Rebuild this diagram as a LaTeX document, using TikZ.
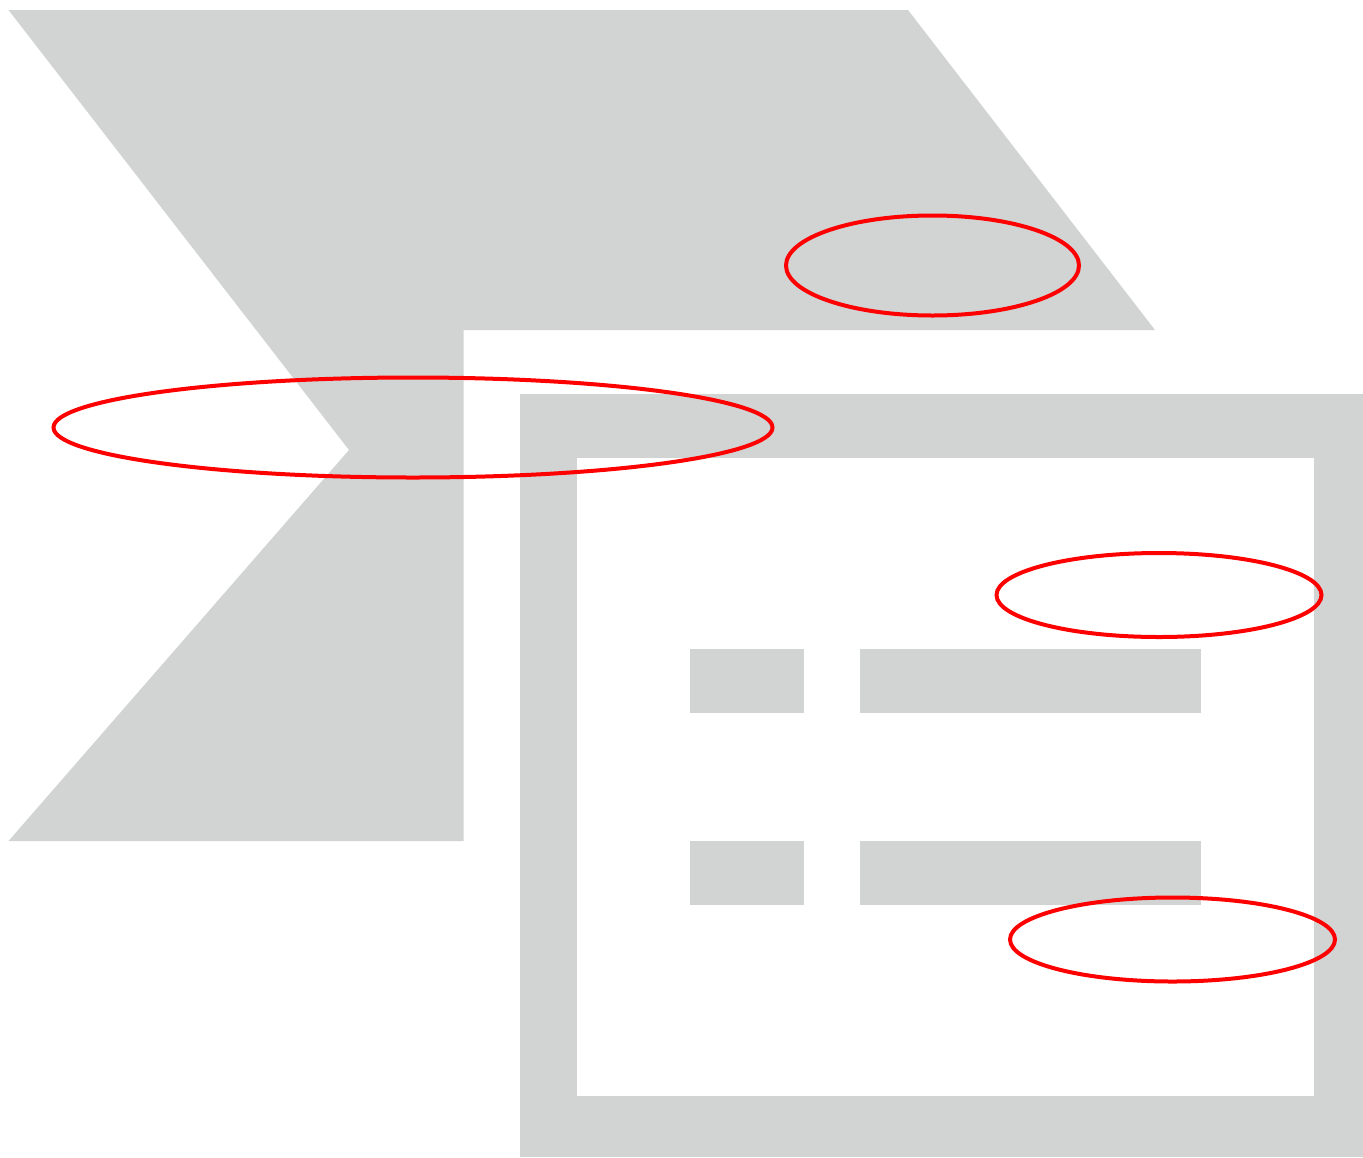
\documentclass[tikz,border=0pt]{standalone}
\definecolor{shape}{HTML}{D2D4D3}
\tikzset{
  pale/.style={fill=shape,draw=none},
  hole/.style={fill=white,draw=none},
  ring/.style={draw=red,line width=3pt,fill=none}
}
\begin{document}
\begin{tikzpicture}[x=0.75pt,y=-0.75pt]
\useasboundingbox (0,0) rectangle (1363,1157);
\fill[white] (0,0) rectangle (1363,1157);
\fill[pale] (8.5,10) -- (908,10) -- (1155,330) -- (463.5,330) -- (463.5,841) -- (8.5,841) -- (349,450) -- cycle;
\fill[pale] (520,393.5) rectangle (1363,1157);
\fill[hole] (577,457.5) rectangle (1314,1096);
\fill[pale] (690,649) rectangle (804,713);
\fill[pale] (860,649) rectangle (1201,713);
\fill[pale] (690,840.5) rectangle (804,905);
\fill[pale] (860,840.5) rectangle (1201,905);
\draw[ring] (932.5,265.5) ellipse [x radius=146.5,y radius=50];
\draw[ring] (413,427.5) ellipse [x radius=359.5,y radius=50];
\draw[ring] (1159,595) ellipse [x radius=162.5,y radius=42];
\draw[ring] (1172.5,939.5) ellipse [x radius=162.5,y radius=42];
\end{tikzpicture}
\end{document}
